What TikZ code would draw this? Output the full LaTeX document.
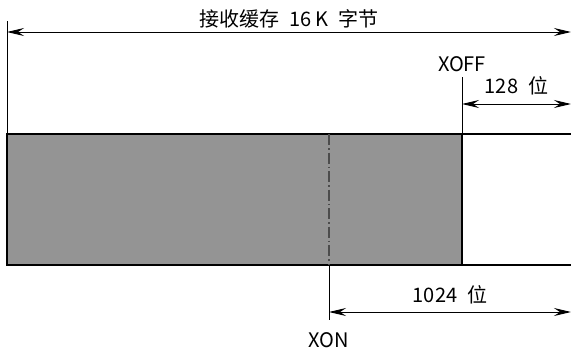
\documentclass[tikz,border=0pt]{standalone}
\usepackage{fontspec}
\setmainfont{Noto Sans CJK SC}
\usetikzlibrary{arrows.meta,positioning}
\definecolor{bufgray}{RGB}{148,148,148}
\newcommand{\wgap}{\hspace{0.5em}}
\tikzset{
  dimline/.style={{Stealth[length=17pt,width=8pt,inset=6pt]}-{Stealth[length=17pt,width=8pt,inset=6pt]},line width=1pt},
  guide/.style={line width=1pt},
  lbl/.style={font=\fontsize{20}{24}\selectfont,inner sep=0pt}
}
\begin{document}
\begin{tikzpicture}[x=1pt,y=-1pt]
    \useasboundingbox (0,0) rectangle (571,349);

    % punti
    \coordinate (left top) at (7,21);
    \coordinate (buf tl) at (7,134);
    \coordinate (buf bl) at (7,265);
    \coordinate (buf tr) at (571,134);
    \coordinate (buf br) at (571,265);
    \coordinate (xoff top) at (462,77);
    \coordinate (xoff a) at (462,134);
    \coordinate (xoff b) at (462,265);
    \coordinate (xon a) at (329,134);
    \coordinate (xon b) at (329,265);
    \coordinate (xon bot) at (329,320);
    \coordinate (total l) at (7,32);
    \coordinate (total r) at (571,32);
    \coordinate (hi l) at (462,104);
    \coordinate (hi r) at (571,104);
    \coordinate (lo l) at (329,312);
    \coordinate (lo r) at (571,312);

    % buffer
    \fill[bufgray] (buf tl) rectangle (xoff b);
    \draw[line width=1.8pt] (buf tr) -- (buf tl) -- (buf bl) -- (buf br);
    \draw[line width=1.6pt] (xoff a) -- (xoff b);
    \draw[line width=1.2pt,black!70,dash pattern=on 11pt off 3pt on 1.5pt off 3pt] (xon a) -- (xon b);

    % linee guida
    \draw[guide] (left top) -- (buf tl);
    \draw[guide] (xoff top) -- (xoff a);
    \draw[guide] (xon b) -- (xon bot);

    % quote
    \draw[dimline] (total l) -- node[midway,above=3pt,lbl] (total lbl) {接收缓存\wgap 16 K\wgap 字节} (total r);
    \draw[dimline] (hi l) -- node[midway,above=8pt,lbl] (hi lbl) {128\wgap 位} (hi r);
    \draw[dimline] (lo l) -- node[midway,above=7pt,lbl] (lo lbl) {1024\wgap 位} (lo r);

    % etichette
    \node[lbl,above=5pt of xoff top] (xoff lbl) {XOFF};
    \node[lbl,below=12pt of xon bot] (xon lbl) {XON};
\end{tikzpicture}
\end{document}
